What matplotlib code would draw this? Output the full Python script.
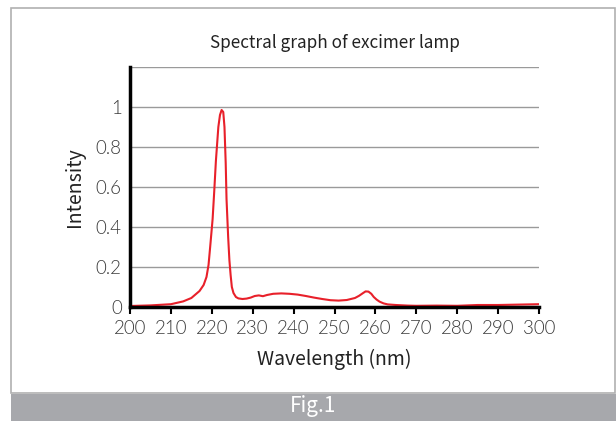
import matplotlib
matplotlib.use('Agg')
import matplotlib.pyplot as plt
from matplotlib.patches import Rectangle

# Spectrum of the excimer lamp
wavelength = [200, 205, 210, 213, 215, 217, 218, 218.7, 219.2, 219.6,
              220.2, 220.6, 221, 221.6, 222, 222.4, 222.8, 223.1, 223.4,
              223.6, 224, 224.3, 224.6, 224.9, 225.3, 225.9, 226.5, 227.5,
              228.5, 229.5, 230.5, 231.5, 232.5, 233.5, 235, 237, 239, 241,
              243, 245, 247, 249, 251, 253, 255, 256, 257, 257.6, 258.3,
              259, 259.6, 260.3, 261, 262, 263, 265, 268, 270, 275, 280,
              285, 290, 295, 300]
intensity = [0.005, 0.008, 0.014, 0.028, 0.045, 0.08, 0.11, 0.15, 0.21,
             0.30, 0.44, 0.58, 0.73, 0.90, 0.96, 0.985, 0.975, 0.90, 0.72,
             0.54, 0.35, 0.235, 0.16, 0.10, 0.07, 0.05, 0.043, 0.040,
             0.042, 0.047, 0.055, 0.058, 0.054, 0.060, 0.066, 0.068, 0.066,
             0.062, 0.055, 0.047, 0.040, 0.034, 0.032, 0.035, 0.045, 0.056,
             0.070, 0.078, 0.077, 0.066, 0.050, 0.037, 0.027, 0.018, 0.013,
             0.010, 0.007, 0.006, 0.007, 0.006, 0.010, 0.010, 0.012, 0.014]

x_ticks = [200, 210, 220, 230, 240, 250, 260, 270, 280, 290, 300]
y_ticks = [0, 0.2, 0.4, 0.6, 0.8, 1]
y_tick_labels = ['0', '0.2', '0.4', '0.6', '0.8', '1']
grid_levels = [0.2, 0.4, 0.6, 0.8, 1.0, 1.2]

plt.rcParams['font.family'] = ['Noto Sans CJK KR', 'DejaVu Sans']

W, H = 616, 421
fig = plt.figure(figsize=(W / 100, H / 100), dpi=100)

# white panel with grey frame and the grey caption bar
fig.patches.append(Rectangle((11 / W, (H - 393) / H), 604 / W, 385 / H,
                             transform=fig.transFigure, facecolor='white',
                             edgecolor='#b0b0b0', linewidth=1.2, zorder=-2))
fig.patches.append(Rectangle((11 / W, 0), 605 / W, (H - 394) / H,
                             transform=fig.transFigure, facecolor='#a7a8ac',
                             edgecolor='none', zorder=-2))
fig.text(313 / W, (H - 406) / H, 'Fig.1', color='white', fontsize=15,
         ha='center', va='center')

ax = fig.add_axes([130 / W, (H - 307) / H, 409 / W, 240 / H])
ax.patch.set_visible(False)
for level in grid_levels:
    ax.axhline(level, color='#9a9a9a', linewidth=1, zorder=1)
ax.plot(wavelength, intensity, color='#e8202a', linewidth=1.5, zorder=3)

ax.set_xlim(200, 300)
ax.set_ylim(0, 1.2)
ax.set_xticks(x_ticks)
ax.set_yticks(y_ticks)
ax.set_yticklabels(y_tick_labels)
ax.tick_params(axis='x', direction='out', length=5, width=1.5,
               color='black', labelsize=13.5, labelcolor='#3a3a3a', pad=4)
ax.tick_params(axis='y', length=0, labelsize=13.5, labelcolor='#3a3a3a', pad=6)
for lab in ax.get_xticklabels() + ax.get_yticklabels():
    lab.set_family(['Lato', 'DejaVu Sans'])
    lab.set_fontweight(300)

for side in ['top', 'right']:
    ax.spines[side].set_visible(False)
for side in ['left', 'bottom']:
    ax.spines[side].set_linewidth(2.5)
    ax.spines[side].set_color('black')
    ax.spines[side].set_zorder(4)

ax.set_title('Spectral graph of excimer lamp', fontsize=12.3,
             color='#222222', pad=14)
ax.set_xlabel('Wavelength (nm)', fontsize=14, color='#222222', labelpad=9)
ax.set_ylabel('Intensity', fontsize=14, color='#222222', labelpad=8)

fig.savefig('out.png', dpi=100)
